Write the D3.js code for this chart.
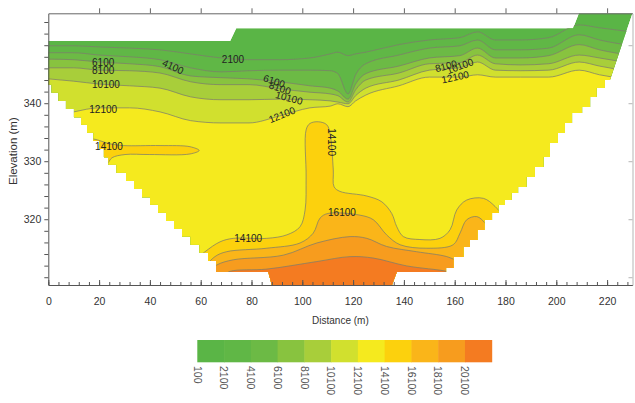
<!DOCTYPE html>
<html>
<head>
<meta charset="utf-8">
<script src="https://cdn.jsdelivr.net/npm/d3@7"></script>
<style>
  body { margin: 0; background: #fff; }
  svg text { font-family: "Liberation Sans", Arial, sans-serif; }
</style>
</head>
<body>
<div id="app"></div>
<script>
const width = 635, height = 403;

// resistivity classes (legend) and their colours
const levels = [100, 2100, 4100, 6100, 8100, 10100, 12100, 14100, 16100, 18100, 20100];
const bandColors = ["#5ab546", "#60b746", "#6cba45", "#88c33f", "#a8ce3a", "#d1e02e",
                    "#f5ea1e", "#fcd10d", "#fab519", "#f79c1e", "#f47b21"];

const xTickLabels = [0, 20, 40, 60, 80, 100, 120, 140, 160, 180, 200, 220];
const yTickLabels = [320, 330, 340];

// upper layered contours: elevation (m) of each level along the profile
const profileDist = [0, 10, 20, 32, 44, 56, 68, 79, 91, 103, 111, 114, 118, 121, 125, 138, 150, 162, 169, 176, 186, 197, 209, 217, 230];
const elev2100 = [349.9, 349.9, 349.7, 349.5, 349.2, 348.5, 347.8, 347.5, 347.5, 347.8, 348.5, 348.8, 348.2, 348.5, 348.8, 350.1, 350.9, 351.3, 352.3, 350.9, 350.9, 351.3, 353.5, 353.0, 352.3];
const elev4100 = [348.7, 348.7, 348.3, 348.0, 347.5, 346.1, 345.4, 345.6, 345.7, 345.7, 345.6, 345.1, 341.6, 344.9, 346.8, 348.3, 349.5, 349.9, 350.9, 349.2, 349.2, 349.5, 351.8, 350.9, 349.9];
const elev6100 = [347.6, 347.5, 347.1, 346.8, 346.3, 344.7, 344.4, 344.2, 343.7, 343.0, 342.6, 342.1, 340.7, 343.3, 345.1, 346.4, 347.8, 348.2, 349.5, 347.8, 347.8, 348.2, 350.1, 349.2, 348.2];
const elev8100 = [346.1, 346.1, 345.7, 345.6, 345.2, 343.7, 343.2, 343.2, 342.5, 341.9, 341.6, 341.3, 340.2, 342.3, 344.0, 345.2, 346.8, 347.0, 348.3, 346.8, 346.6, 346.8, 348.3, 347.8, 346.8];
const elev10100 = [344.2, 343.8, 343.3, 343.0, 342.6, 341.1, 340.6, 340.6, 340.7, 340.6, 340.4, 340.2, 339.9, 341.3, 342.6, 344.0, 345.7, 346.1, 347.1, 345.7, 345.6, 345.7, 347.1, 346.4, 345.4];
const elev12100 = [337.5, 338.5, 339.2, 339.2, 338.5, 337.0, 336.6, 336.6, 337.8, 339.2, 339.5, 339.9, 339.4, 340.4, 341.4, 343.0, 344.5, 344.5, 344.9, 344.5, 344.5, 344.5, 345.7, 344.9, 344.0];

// lower conductive body: contour lines as [distance, elevation]
const edge14100 = [[55, 312.0], [61.7, 314.4], [67.6, 316.1], [72.8, 316.7], [86, 316.7], [93.9, 317.3], [99.1, 318.7], [101.1, 321.6], [101.5, 327.3], [101.5, 335.4], [103, 336.5], [106.3, 336.8], [109.6, 336.3], [110.9, 334.8], [112.2, 328.5], [112.5, 325.6], [114.8, 324.8], [125.4, 324.0], [131.3, 323.0], [135.2, 321.0], [137.2, 318.7], [139.8, 317.0], [146.3, 316.5], [154.2, 316.7], [158.2, 318.2], [160.8, 321.6], [164.7, 323.3], [171.3, 323.6], [175.9, 322.2], [181.8, 319.0]];
const lens14100 = [[16.4, 333.7], [24.3, 333.0], [29.5, 332.7], [44, 332.7], [55.8, 332.5], [59.4, 331.85], [55.8, 331.25], [40, 331.15], [30.2, 331.15], [25.1, 330.6], [23, 329.5], [18.4, 329.0]];
const edge16100 = [[60, 311.0], [65.6, 313.55], [70.2, 314.4], [86, 315.0], [99.1, 315.9], [104.3, 317.6], [107, 320.2], [110.2, 321.0], [122.7, 320.7], [128, 319.9], [133.2, 317.3], [138.5, 315.6], [149, 315.0], [159.4, 315.6], [162.1, 317.6], [164.7, 319.9], [168.7, 320.45], [172, 319.3], [175.9, 316.4]];
const edge18100 = [[62, 310.5], [66.3, 312.1], [72.8, 313.0], [92.5, 313.8], [105.7, 315.9], [118.8, 317.0], [125.4, 316.7], [133.2, 315.3], [145, 314.4], [156.9, 313.55], [162, 312.6]];
const edge20100 = [[68, 310.0], [71.5, 311.0], [86, 311.4], [105.7, 312.7], [118.8, 313.55], [128, 313.3], [141.1, 311.95], [156.9, 311.0], [160, 310.5]];

// outline of the section (distance, elevation)
const domainTop = [[0, 350.74], [71.6, 350.74], [74, 352.93], [206.6, 352.93], [208.9, 355.5], [230, 355.5], [221.1, 344.02]];
const domainRight = [[221.1, 344.02], [217.2, 342.64], [214.5, 341.09], [212.1, 339.36], [208.2, 338.33], [204.2, 336.6], [202.6, 334.88], [198.7, 333.16], [196.3, 330.74], [193.6, 329.02], [189.6, 327.29], [186.9, 325.57], [183, 324.53], [181.8, 323.33], [177.8, 322.47], [176.7, 321.09], [172.7, 319.88], [170.8, 318.16], [167.2, 316.43], [164.8, 315.22], [162.1, 313.5], [157, 311.6], [156.2, 310.9]];
const domainBottom = [[156.2, 310.9], [137.2, 310.9], [135.3, 308.66], [88, 308.66], [86.6, 310.9], [67.6, 310.9]];
const domainLeft = [[67.6, 310.9], [64.5, 312.8], [61.3, 314.2], [57.8, 315.6], [54.2, 317.0], [51.1, 318.3], [47.9, 319.7], [44.8, 321.1], [41.6, 322.5], [38.5, 323.8], [35.3, 325.2], [32.2, 326.6], [29.0, 328.0], [24.7, 329.4], [22.7, 330.7], [21.1, 332.1], [19.2, 333.5], [16.4, 334.9], [14.1, 336.3], [11.7, 337.6], [8.5, 339.0], [5.4, 340.4], [2.6, 341.8], [0, 343.2]];

const contourLabels = [
  { text: "6100", d: 21.6, e: 347.1, angle: 0 },
  { text: "8100", d: 21.6, e: 345.6, angle: 0 },
  { text: "10100", d: 22.7, e: 343.2, angle: 0 },
  { text: "12100", d: 21.6, e: 339.0, angle: 0 },
  { text: "4100", d: 49.1, e: 346.3, angle: 25 },
  { text: "2100", d: 72.7, e: 347.5, angle: 0 },
  { text: "6100", d: 88.9, e: 343.8, angle: 18 },
  { text: "8100", d: 91.2, e: 342.6, angle: 18 },
  { text: "10100", d: 94.8, e: 340.9, angle: 15 },
  { text: "12100", d: 92, e: 338.0, angle: -22 },
  { text: "14100", d: 23.9, e: 332.6, angle: 0 },
  { text: "14100", d: 111.6, e: 333.3, angle: 90 },
  { text: "14100", d: 78.7, e: 316.6, angle: 0 },
  { text: "16100", d: 115.6, e: 321.1, angle: 0 },
  { text: "8100", d: 156.6, e: 346.4, angle: -15 },
  { text: "10100", d: 162.1, e: 346.4, angle: -20 },
  { text: "12100", d: 160.2, e: 344.5, angle: -12 }
];

const x = d3.scaleLinear().domain([0, 230]).range([48.3, 632.5]);
const y = d3.scaleLinear().domain([308.66, 355.5]).range([285, 13.3]);
const colorOf = level => bandColors[levels.indexOf(level)];
const floor = 300; // below the section, used to close fills

const svg = d3.select("#app").append("svg")
  .attr("width", width)
  .attr("height", height);

// clip to the stepped section outline
const flatLine = d3.line().x(d => x(d[0])).y(d => y(d[1]));
const stepLine = d3.line().x(d => x(d[0])).y(d => y(d[1])).curve(d3.curveStep);
const outline = [flatLine(domainTop), stepLine(domainRight), flatLine(domainBottom), stepLine(domainLeft)]
  .map((p, i) => i ? p.replace(/^M/, "L") : p)
  .join("") + "Z";

svg.append("defs").append("clipPath")
  .attr("id", "section")
  .append("path")
  .attr("d", outline);

const plot = svg.append("g").attr("clip-path", "url(#section)");

plot.append("path")
  .attr("d", outline)
  .attr("fill", bandColors[0]);

// layered top: paint each level downward
const profiles = [[2100, elev2100], [4100, elev4100], [6100, elev6100],
                  [8100, elev8100], [10100, elev10100], [12100, elev12100]];

const profileArea = d3.area()
  .x(d => x(d[0]))
  .y0(y(floor))
  .y1(d => y(d[1]))
  .curve(d3.curveMonotoneX);
const profileLine = d3.line()
  .x(d => x(d[0]))
  .y(d => y(d[1]))
  .curve(d3.curveMonotoneX);

profiles.forEach(([level, elev]) => {
  const pts = profileDist.map((d, i) => [d, elev[i]]);
  plot.append("path")
    .attr("d", profileArea(pts))
    .attr("fill", colorOf(level));
});

// lower body
const smooth = d3.line()
  .x(d => x(d[0]))
  .y(d => y(d[1]))
  .curve(d3.curveCatmullRom.alpha(0.5));
const smoothClosed = d3.line()
  .x(d => x(d[0]))
  .y(d => y(d[1]))
  .curve(d3.curveCatmullRomClosed.alpha(0.5));

const regionPath = pts => {
  const first = pts[0], last = pts[pts.length - 1];
  return smooth(pts) + `L${x(last[0])},${y(floor)}L${x(first[0])},${y(floor)}Z`;
};

const bodies = [[14100, edge14100], [16100, edge16100], [18100, edge18100], [20100, edge20100]];

plot.append("path")
  .attr("d", regionPath(edge14100))
  .attr("fill", colorOf(14100));
plot.append("path")
  .attr("d", smoothClosed(lens14100))
  .attr("fill", colorOf(14100));
bodies.slice(1).forEach(([level, pts]) => {
  plot.append("path")
    .attr("d", regionPath(pts))
    .attr("fill", colorOf(level));
});

// contour lines
const lineStyle = sel => sel
  .attr("fill", "none")
  .attr("stroke", "#7d7d6c")
  .attr("stroke-opacity", 0.75)
  .attr("stroke-width", 1);

profiles.forEach(([level, elev]) => {
  plot.append("path")
    .attr("d", profileLine(profileDist.map((d, i) => [d, elev[i]])))
    .call(lineStyle);
});
bodies.forEach(([level, pts]) => {
  plot.append("path").attr("d", smooth(pts)).call(lineStyle);
});
plot.append("path").attr("d", smoothClosed(lens14100)).call(lineStyle);

// contour labels
svg.append("g")
  .selectAll("text")
  .data(contourLabels)
  .join("text")
  .attr("transform", d => `translate(${x(d.d)},${y(d.e)}) rotate(${d.angle})`)
  .attr("text-anchor", "middle")
  .attr("dy", "0.35em")
  .attr("font-size", "10px")
  .attr("fill", "#222")
  .text(d => d.text);

// axes
const styleAxis = (g, color) => {
  g.attr("color", color)
    .attr("font-family", "Liberation Sans, Arial, sans-serif")
    .attr("font-size", "10.5px");
  g.selectAll(".tick text").attr("fill", "#333");
};

svg.append("g")
  .attr("transform", `translate(${x(0)},0)`)
  .call(d3.axisLeft(y)
    .tickValues(d3.range(310, 356, 2))
    .tickSizeInner(4)
    .tickSizeOuter(0)
    .tickPadding(3)
    .tickFormat(d => yTickLabels.includes(d) ? d : ""))
  .call(g => styleAxis(g, "#555"));

svg.append("g")
  .attr("transform", `translate(0,${y(308.66)})`)
  .call(d3.axisBottom(x)
    .tickValues(d3.range(0, 230, 4))
    .tickSizeInner(-3)
    .tickSizeOuter(0)
    .tickFormat(""))
  .call(g => styleAxis(g, "#555"));

svg.append("g")
  .attr("transform", `translate(0,${y(308.66)})`)
  .call(d3.axisBottom(x)
    .tickValues(xTickLabels)
    .tickSizeInner(-5)
    .tickSizeOuter(0)
    .tickPadding(13))
  .call(g => styleAxis(g, "#555"));

svg.append("g")
  .attr("transform", `translate(0,${y(355.5)})`)
  .call(d3.axisTop(x)
    .tickValues(xTickLabels.slice(1))
    .tickSizeInner(5)
    .tickSizeOuter(0)
    .tickFormat(""))
  .call(g => styleAxis(g, "#666"));

svg.append("g")
  .attr("transform", `translate(${x(230)},0)`)
  .call(d3.axisLeft(y)
    .tickValues([310, 320, 330, 340, 350])
    .tickSizeInner(4)
    .tickSizeOuter(0)
    .tickFormat(""))
  .call(g => styleAxis(g, "#b5b5b5"));

// axis titles
svg.append("text")
  .attr("transform", `translate(12.5,${(y(355.5) + y(308.66)) / 2 + 2}) rotate(-90)`)
  .attr("text-anchor", "middle")
  .attr("dy", "0.35em")
  .attr("font-size", "11.5px")
  .attr("fill", "#333")
  .text("Elevation (m)");

svg.append("text")
  .attr("x", (x(0) + x(230)) / 2)
  .attr("y", 324)
  .attr("text-anchor", "middle")
  .attr("font-size", "10px")
  .attr("fill", "#333")
  .text("Distance (m)");

// colour bar legend
const legendX = d3.scaleBand()
  .domain(levels)
  .range([197.3, 491.7])
  .padding(0);

const legend = svg.append("g");

legend.selectAll("rect")
  .data(levels)
  .join("rect")
  .attr("x", d => legendX(d))
  .attr("y", 340)
  .attr("width", legendX.bandwidth() + 0.5)
  .attr("height", 22.3)
  .attr("fill", d => colorOf(d));

legend.selectAll("text")
  .data(levels)
  .join("text")
  .attr("transform", d => `translate(${legendX(d)},366) rotate(90)`)
  .attr("dy", "0.35em")
  .attr("font-size", "10.5px")
  .attr("fill", "#555")
  .text(d => d);
</script>
</body>
</html>
